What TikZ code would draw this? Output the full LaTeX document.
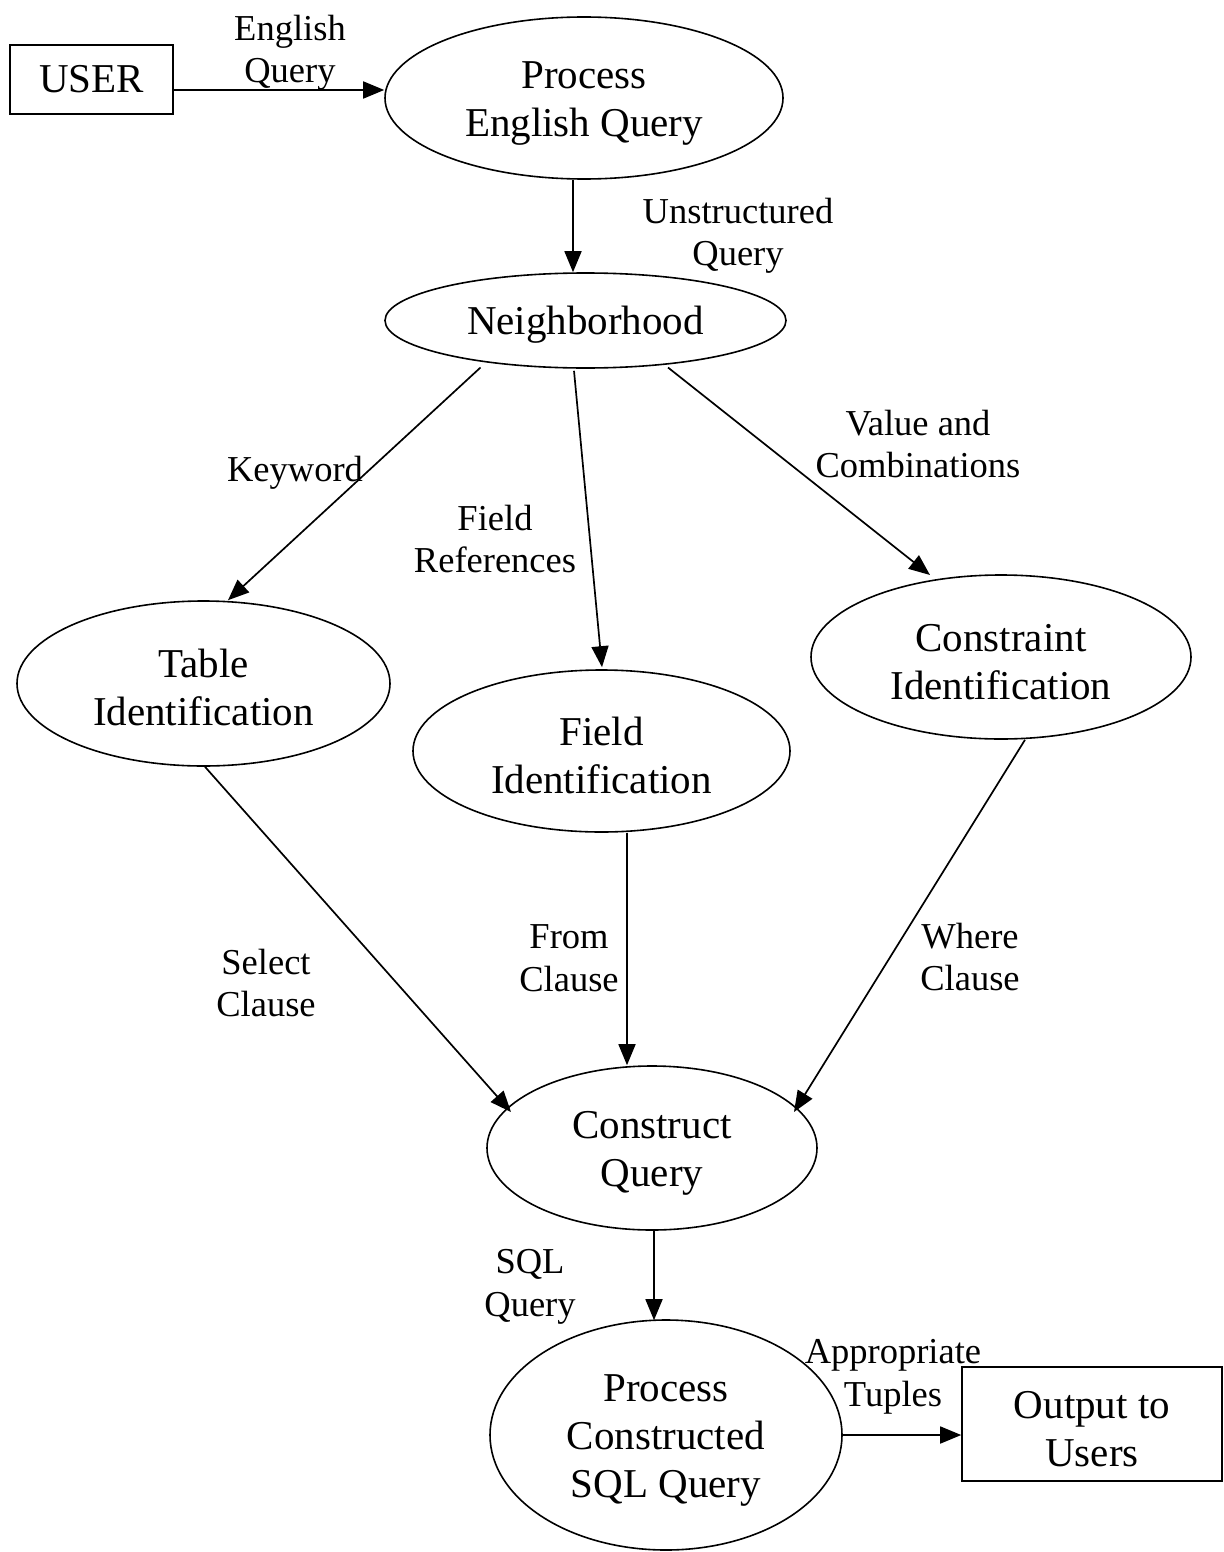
\documentclass[tikz,border=0pt]{standalone}
\usepackage{fontspec}
\setmainfont{Liberation Serif}
\usetikzlibrary{shapes.geometric,arrows.meta,calc}

% taller first line, so the text sits a little lower in its ellipse
\newcommand{\firstline}{\rule{0pt}{37pt}}

\tikzset{
  proc/.style={draw, ellipse, line width=1.6pt, inner sep=0pt, align=center,
    font=\fontsize{41}{48}\selectfont},
  ext/.style={draw, rectangle, line width=1.6pt, inner sep=0pt, align=center,
    font=\fontsize{41}{48}\selectfont},
  lbl/.style={align=center, inner sep=0pt, font=\fontsize{36.5}{42.5}\selectfont},
  flow/.style={line width=1.7pt, -{Triangle[length=21pt,width=17pt]}}
}

\begin{document}
\begin{tikzpicture}[x=1pt,y=-1pt]
\useasboundingbox (0,0) rectangle (1223,1552);
\fill[white] (0,0) rectangle (1223,1552);

% external entities
\node[ext, minimum width=163pt, minimum height=69pt] (user) at (91.5,79.5) {USER};
\node[ext, minimum width=260pt, minimum height=114pt] (out) at (1092,1424) {\firstline Output to\\Users};

% processes
\node[proc, minimum width=398pt, minimum height=162pt] (peq) at (584,98) {\firstline Process\\English Query};
\node[proc, minimum width=401pt, minimum height=95pt] (neigh) at (585.5,320.5) {\firstline Neighborhood};
\node[proc, minimum width=373pt, minimum height=165pt] (table) at (203.5,683.5) {\firstline Table\\Identification};
\node[proc, minimum width=377pt, minimum height=162pt] (field) at (601.5,751) {\firstline Field\\Identification};
\node[proc, minimum width=380pt, minimum height=164pt] (cons) at (1001,657) {\firstline Constraint\\Identification};
\node[proc, minimum width=330pt, minimum height=164pt] (cq) at (652,1148) {\firstline Construct\\Query};
\node[proc, minimum width=352pt, minimum height=230pt] (pcsq) at (666,1435) {\firstline Process\\Constructed\\SQL Query};

% data flows
\draw[flow] ($(user.east)+(0,10.5)$) -- ($(peq.west)+(0,-8)$);
\draw[flow] ($(peq.south)+(-11,0)$) -- ($(neigh.north)+(-12.5,0)$);
\draw[flow] ($(neigh.center)+(-105,47)$) -- ($(table.north)+(24.5,0)$);
\draw[flow] ($(neigh.south)+(-11.5,2)$) -- ($(field.north)+(0.5,-2)$);
\draw[flow] ($(neigh.center)+(82.5,47)$) -- ($(cons.center)+(-71,-82)$);
\draw[flow] ($(table.south)+(1.5,0)$) -- ($(cq.center)+(-141,-36)$);
\draw[flow] ($(field.south)+(25.5,0)$) -- ($(cq.north)+(-25,0)$);
\draw[flow] ($(cons.south)+(24,0)$) -- ($(cq.center)+(142,-36)$);
\draw[flow] ($(cq.south)+(2,0)$) -- ($(pcsq.north)+(-12,1)$);
\draw[flow] (pcsq.east) -- (out.west |- pcsq.east);

% flow labels
\node[lbl] (l1) at (290,53) {English\\Query};
\node[lbl] (l2) at (738,236) {Unstructured\\Query};
\node[lbl] (l3) at (295,473) {Keyword};
\node[lbl] (l4) at (495,539) {Field\\References};
\node[lbl] (l5) at (918,444) {Value and\\Combinations};
\node[lbl] (l6) at (266,983) {Select\\Clause};
\node[lbl] (l7) at (569,958) {From\\Clause};
\node[lbl] (l8) at (970,957) {Where\\Clause};
\node[lbl] (l9) at (530,1287) {SQL\\Query};
\node[lbl] (l10) at (893,1377) {Appropriate\\Tuples};
\end{tikzpicture}
\end{document}
